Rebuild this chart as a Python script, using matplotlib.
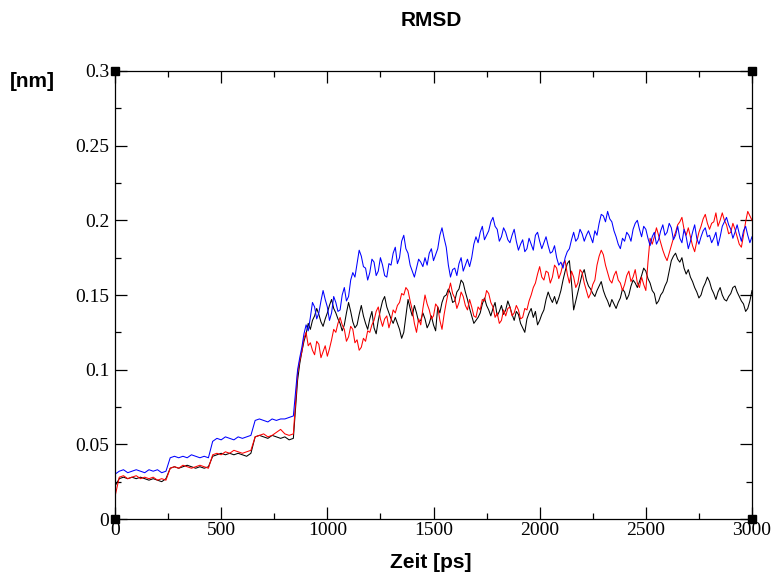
import numpy as np
import matplotlib
matplotlib.use("Agg")
import matplotlib.pyplot as plt
from matplotlib.ticker import MultipleLocator, FuncFormatter

# ---------------- data ----------------
# sampling: every 20 ps up to 840 ps, every 10 ps from 860 ps on
time_early = np.arange(0, 841, 20)
time_late = np.arange(860, 3001, 10)
time_ps = np.concatenate([time_early, time_late])

blue_early = [0.030, 0.032, 0.033, 0.031, 0.032, 0.033, 0.032, 0.031, 0.033, 0.032, 0.033, 0.031, 0.032,
              0.041, 0.042, 0.041, 0.042, 0.041, 0.043, 0.042, 0.041, 0.042, 0.041,
              0.052, 0.054, 0.053, 0.055, 0.054, 0.053, 0.055, 0.054, 0.055, 0.056,
              0.066, 0.067, 0.066, 0.065, 0.067, 0.066, 0.067, 0.067, 0.068, 0.069]
blue_late = [0.100, 0.108, 0.115, 0.124, 0.130, 0.126, 0.135, 0.145, 0.142, 0.134, 0.138, 0.146, 0.153, 0.147, 0.142, 0.133, 0.138, 0.149, 0.145, 0.139,
             0.140, 0.150, 0.155, 0.146, 0.149, 0.160, 0.165, 0.162, 0.171, 0.180, 0.176, 0.169, 0.168, 0.160, 0.165, 0.174, 0.172, 0.163, 0.166, 0.175,
             0.170, 0.163, 0.162, 0.171, 0.170, 0.178, 0.182, 0.171, 0.175, 0.186, 0.190, 0.181, 0.178, 0.170, 0.166, 0.162, 0.168, 0.174, 0.172, 0.169,
             0.175, 0.170, 0.178, 0.181, 0.173, 0.177, 0.181, 0.190, 0.195, 0.188, 0.182, 0.170, 0.162, 0.167, 0.168, 0.163, 0.171, 0.175, 0.166, 0.170,
             0.174, 0.169, 0.175, 0.184, 0.189, 0.185, 0.192, 0.196, 0.187, 0.190, 0.193, 0.199, 0.202, 0.196, 0.194, 0.186, 0.189, 0.195, 0.192, 0.187,
             0.185, 0.190, 0.194, 0.186, 0.180, 0.184, 0.187, 0.179, 0.181, 0.188, 0.184, 0.180, 0.190, 0.192, 0.186, 0.181, 0.185, 0.189, 0.183, 0.178,
             0.179, 0.183, 0.175, 0.170, 0.172, 0.168, 0.175, 0.179, 0.181, 0.187, 0.192, 0.186, 0.188, 0.194, 0.191, 0.186, 0.190, 0.193, 0.189, 0.185,
             0.193, 0.190, 0.198, 0.204, 0.203, 0.199, 0.206, 0.201, 0.199, 0.193, 0.189, 0.184, 0.181, 0.188, 0.186, 0.192, 0.190, 0.186, 0.194, 0.198,
             0.200, 0.194, 0.189, 0.196, 0.194, 0.188, 0.183, 0.189, 0.192, 0.184, 0.187, 0.193, 0.197, 0.190, 0.192, 0.198, 0.195, 0.187, 0.190, 0.196,
             0.188, 0.185, 0.194, 0.189, 0.181, 0.186, 0.192, 0.197, 0.188, 0.184, 0.189, 0.193, 0.195, 0.189, 0.190, 0.185, 0.188, 0.192, 0.183, 0.189,
             0.196, 0.199, 0.202, 0.197, 0.194, 0.188, 0.192, 0.197, 0.191, 0.186, 0.193, 0.196, 0.190, 0.185, 0.189]

red_early = [0.015, 0.028, 0.029, 0.027, 0.028, 0.029, 0.027, 0.028, 0.027, 0.028, 0.026, 0.027, 0.026,
             0.034, 0.035, 0.034, 0.036, 0.035, 0.034, 0.035, 0.036, 0.035, 0.034,
             0.043, 0.044, 0.043, 0.045, 0.044, 0.046, 0.045, 0.044, 0.045, 0.046,
             0.055, 0.056, 0.057, 0.055, 0.056, 0.058, 0.060, 0.057, 0.056, 0.057]
red_late = [0.098, 0.106, 0.112, 0.121, 0.125, 0.116, 0.118, 0.113, 0.110, 0.119, 0.117, 0.108, 0.112, 0.116, 0.109, 0.114, 0.120, 0.127, 0.125, 0.131,
            0.135, 0.130, 0.127, 0.119, 0.122, 0.129, 0.127, 0.118, 0.120, 0.113, 0.115, 0.121, 0.119, 0.126, 0.125, 0.130, 0.133, 0.139, 0.142, 0.134,
            0.129, 0.134, 0.136, 0.128, 0.133, 0.140, 0.138, 0.143, 0.145, 0.151, 0.150, 0.155, 0.153, 0.146, 0.140, 0.131, 0.125, 0.134, 0.130, 0.141,
            0.150, 0.144, 0.140, 0.134, 0.136, 0.144, 0.142, 0.133, 0.127, 0.137, 0.145, 0.152, 0.158, 0.151, 0.148, 0.141, 0.145, 0.152, 0.149, 0.143,
            0.140, 0.147, 0.142, 0.136, 0.135, 0.142, 0.140, 0.147, 0.146, 0.153, 0.151, 0.145, 0.142, 0.135, 0.138, 0.131, 0.133, 0.140, 0.136, 0.141,
            0.142, 0.136, 0.138, 0.143, 0.140, 0.134, 0.135, 0.141, 0.140, 0.146, 0.150, 0.155, 0.158, 0.164, 0.169, 0.162, 0.160, 0.166, 0.165, 0.158,
            0.162, 0.170, 0.168, 0.161, 0.165, 0.171, 0.173, 0.164, 0.158, 0.166, 0.162, 0.155, 0.158, 0.167, 0.165, 0.158, 0.153, 0.148, 0.151, 0.157,
            0.160, 0.170, 0.176, 0.180, 0.177, 0.170, 0.165, 0.160, 0.158, 0.163, 0.166, 0.160, 0.158, 0.153, 0.157, 0.163, 0.166, 0.159, 0.162, 0.167,
            0.158, 0.155, 0.162, 0.157, 0.153, 0.172, 0.188, 0.184, 0.189, 0.195, 0.190, 0.185, 0.180, 0.176, 0.173, 0.178, 0.183, 0.188, 0.192, 0.197,
            0.199, 0.202, 0.194, 0.190, 0.195, 0.189, 0.183, 0.179, 0.186, 0.192, 0.196, 0.201, 0.204, 0.198, 0.194, 0.198, 0.199, 0.205, 0.196, 0.200,
            0.205, 0.200, 0.197, 0.191, 0.192, 0.198, 0.194, 0.189, 0.184, 0.182, 0.190, 0.199, 0.206, 0.203, 0.200]

black_early = [0.022, 0.027, 0.028, 0.027, 0.028, 0.027, 0.028, 0.027, 0.026, 0.027, 0.026, 0.025, 0.027,
               0.034, 0.035, 0.034, 0.035, 0.036, 0.035, 0.034, 0.035, 0.034, 0.035,
               0.042, 0.043, 0.044, 0.043, 0.044, 0.043, 0.044, 0.043, 0.042, 0.044,
               0.055, 0.056, 0.055, 0.054, 0.056, 0.055, 0.054, 0.055, 0.053, 0.054]
black_late = [0.093, 0.104, 0.112, 0.119, 0.124, 0.131, 0.127, 0.133, 0.136, 0.141, 0.137, 0.132, 0.129, 0.134, 0.138, 0.143, 0.147, 0.141, 0.138, 0.134,
              0.131, 0.126, 0.130, 0.138, 0.145, 0.139, 0.132, 0.128, 0.130, 0.137, 0.143, 0.136, 0.131, 0.127, 0.134, 0.139, 0.128, 0.124, 0.133, 0.140,
              0.146, 0.149, 0.142, 0.138, 0.134, 0.131, 0.135, 0.131, 0.127, 0.121, 0.125, 0.136, 0.147, 0.141, 0.136, 0.143, 0.138, 0.132, 0.133, 0.138,
              0.134, 0.128, 0.131, 0.136, 0.130, 0.126, 0.142, 0.138, 0.145, 0.149, 0.150, 0.154, 0.151, 0.145, 0.146, 0.152, 0.154, 0.160, 0.158, 0.152,
              0.147, 0.141, 0.136, 0.131, 0.133, 0.135, 0.138, 0.144, 0.148, 0.143, 0.140, 0.136, 0.141, 0.145, 0.136, 0.139, 0.143, 0.137, 0.140, 0.146,
              0.142, 0.137, 0.133, 0.139, 0.137, 0.131, 0.128, 0.125, 0.134, 0.138, 0.141, 0.135, 0.139, 0.130, 0.133, 0.137, 0.140, 0.147, 0.152, 0.148,
              0.145, 0.149, 0.144, 0.148, 0.153, 0.160, 0.166, 0.171, 0.173, 0.158, 0.140, 0.146, 0.152, 0.158, 0.164, 0.167, 0.160, 0.156, 0.154, 0.151,
              0.149, 0.153, 0.156, 0.159, 0.153, 0.149, 0.146, 0.142, 0.147, 0.144, 0.141, 0.145, 0.148, 0.154, 0.152, 0.147, 0.150, 0.156, 0.160, 0.158,
              0.155, 0.159, 0.163, 0.168, 0.166, 0.161, 0.158, 0.153, 0.151, 0.144, 0.146, 0.150, 0.152, 0.156, 0.159, 0.166, 0.173, 0.176, 0.178, 0.174,
              0.172, 0.175, 0.168, 0.164, 0.167, 0.162, 0.159, 0.155, 0.152, 0.148, 0.150, 0.155, 0.158, 0.162, 0.159, 0.154, 0.151, 0.147, 0.152, 0.155,
              0.150, 0.147, 0.146, 0.149, 0.151, 0.155, 0.156, 0.152, 0.149, 0.146, 0.144, 0.139, 0.141, 0.146, 0.153]

rmsd_black = black_early + black_late
rmsd_red = red_early + red_late
rmsd_blue = blue_early + blue_late

x_ticks = [0, 500, 1000, 1500, 2000, 2500, 3000]
y_ticks = [0, 0.05, 0.1, 0.15, 0.2, 0.25, 0.3]

# ---------------- figure ----------------
W, H = 772, 574
fig = plt.figure(figsize=(W / 100, H / 100), dpi=100)
fig.patch.set_facecolor("white")
ax = fig.add_axes([115 / W, (H - 519) / H, (752 - 115) / W, (519 - 71) / H])

ax.plot(time_ps, rmsd_black, color="black", lw=0.75)
ax.plot(time_ps, rmsd_red, color="#ff0000", lw=0.75)
ax.plot(time_ps, rmsd_blue, color="#0000ff", lw=0.75)

ax.set_xlim(0, 3000)
ax.set_ylim(0, 0.3)
ax.set_xticks(x_ticks)
ax.set_yticks(y_ticks)
ax.xaxis.set_minor_locator(MultipleLocator(250))
ax.yaxis.set_minor_locator(MultipleLocator(0.025))
fmt = FuncFormatter(lambda v, p: "%g" % round(v, 4))
ax.xaxis.set_major_formatter(fmt)
ax.yaxis.set_major_formatter(fmt)

ax.tick_params(which="both", direction="in", top=True, right=True, width=0.9, color="black")
ax.tick_params(which="major", length=8.5)
ax.tick_params(which="minor", length=4.3)
ax.tick_params(axis="x", which="major", pad=2.5)
ax.tick_params(axis="y", which="major", pad=4)
for lab in ax.get_xticklabels() + ax.get_yticklabels():
    lab.set_fontfamily("Liberation Serif")
    lab.set_fontsize(14)
for s in ax.spines.values():
    s.set_linewidth(0.9)
    s.set_color("black")

# corner handles
for cx, cy in [(0, 0), (1, 0), (0, 1), (1, 1)]:
    ax.plot([cx], [cy], marker="s", ms=5.5, color="black", transform=ax.transAxes,
            clip_on=False, zorder=10)

fig.text(431 / W, 1 - 20 / H, "RMSD", ha="center", va="center",
         fontfamily="Liberation Sans", fontweight="bold", fontsize=15)
fig.text(10 / W, 1 - 81 / H, "[nm]", ha="left", va="center",
         fontfamily="Liberation Sans", fontweight="bold", fontsize=15)
fig.text(431 / W, 1 - 563 / H, "Zeit [ps]", ha="center", va="center",
         fontfamily="Liberation Sans", fontweight="bold", fontsize=15)

fig.savefig("out.png", dpi=100, facecolor="white")
